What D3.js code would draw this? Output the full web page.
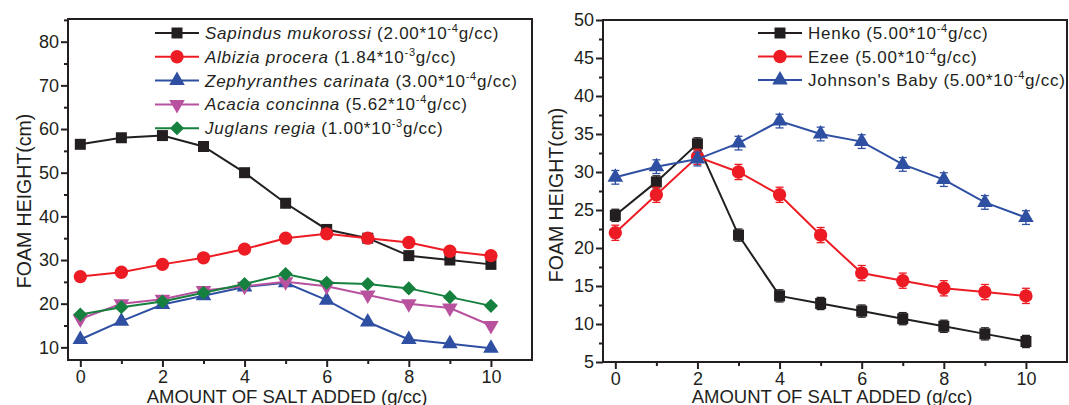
<!DOCTYPE html>
<html>
<head>
<meta charset="utf-8">
<script src="https://cdn.jsdelivr.net/npm/d3@7"></script>
<style>
  body { margin: 0; background: #fff; }
  svg { display: block; font-family: "Liberation Sans", Arial, sans-serif; }
</style>
</head>
<body>
<div id="chart"></div>
<script>
// salt added (g/cc)
var saltAdded = [0, 1, 2, 3, 4, 5, 6, 7, 8, 9, 10];

// left panel: natural surfactants, foam height (cm)
var sapindus     = [56.5, 58, 58.5, 56, 50, 43, 37, 35, 31, 30, 29];
var albizia      = [26.2, 27.2, 29, 30.5, 32.5, 35, 36, 35, 34, 32, 31];
var zephyranthes = [11.8, 16, 19.8, 21.8, 23.8, 24.8, 20.8, 15.8, 11.8, 10.8, 9.8];
var acacia       = [16.5, 20, 21, 23, 24, 25, 24, 22, 20, 19, 15];
var juglans      = [17.5, 19.2, 20.5, 22.5, 24.5, 26.8, 24.8, 24.5, 23.5, 21.5, 19.5];

// right panel: commercial shampoos, foam height (cm) and error
var henko        = [24.3, 28.7, 33.7, 21.7, 13.7, 12.7, 11.7, 10.7, 9.7, 8.7, 7.7];
var henkoErr     = [0.8, 0.8, 0.8, 0.8, 0.8, 0.8, 0.8, 0.8, 0.8, 0.8, 0.8];
var ezee         = [22, 27, 32, 30, 27, 21.7, 16.7, 15.7, 14.7, 14.2, 13.7];
var ezeeErr      = [1, 1, 1, 1, 1, 1, 1, 1, 1, 1, 1];
var johnson      = [29.3, 30.7, 31.7, 33.8, 36.7, 35, 34, 31, 29, 26, 24];
var johnsonErr   = [0.9, 0.9, 0.9, 0.9, 0.9, 0.9, 0.9, 0.9, 0.9, 0.9, 0.9];

var leftYTicks  = [10, 20, 30, 40, 50, 60, 70, 80];
var rightYTicks = [5, 10, 15, 20, 25, 30, 35, 40, 45, 50];

var ink = "#231f20";

var svg = d3.select("#chart")
  .append("svg")
    .attr("width", 1069)
    .attr("height", 405);

// marker shapes
var shapes = {
  square:   d3.symbol().type(d3.symbolSquare).size(121),
  circle:   d3.symbol().type(d3.symbolCircle).size(140),
  triangle: d3.symbol().type(d3.symbolTriangle).size(105),
  down:     d3.symbol().type(d3.symbolTriangle).size(105),
  diamond:  d3.symbol().type(d3.symbolSquare).size(100)
};
var rotate = { square: 0, circle: 0, triangle: 0, down: 180, diamond: 45 };

function drawPanel(p) {
  var x = d3.scaleLinear().domain([-0.3, 11]).range([p.left, p.right]);
  var y = d3.scaleLinear().domain(p.yDomain).range([p.bottom, p.top]);
  var g = svg.append("g");

  // x axis: ticks at every integer, labels on even values
  var xMinor = saltAdded.filter(function(d) { return d % 2 == 1; });
  var xMajor = saltAdded.filter(function(d) { return d % 2 == 0; });
  g.append("g")
    .attr("transform", "translate(0," + p.bottom + ")")
    .call(d3.axisBottom(x).tickValues(xMinor).tickSize(4).tickSizeOuter(0).tickFormat(""));
  g.append("g")
    .attr("class", "xmajor")
    .attr("transform", "translate(0," + p.bottom + ")")
    .call(d3.axisBottom(x).tickValues(xMajor).tickSize(7).tickPadding(4).tickSizeOuter(0));

  // y axis with minor ticks halfway
  var step = p.yTicks[1] - p.yTicks[0];
  var yMinor = p.yTicks.map(function(d) { return d - step / 2; })
    .filter(function(d) { return d > p.yDomain[0]; });
  if (p.yTicks[p.yTicks.length - 1] + step / 2 < p.yDomain[1]) yMinor.push(p.yTicks[p.yTicks.length - 1] + step / 2);
  g.append("g")
    .attr("transform", "translate(" + p.left + ",0)")
    .call(d3.axisLeft(y).tickValues(yMinor).tickSize(4).tickSizeOuter(0).tickFormat(""));
  g.append("g")
    .attr("transform", "translate(" + p.left + ",0)")
    .call(d3.axisLeft(y).tickValues(p.yTicks).tickSize(7).tickPadding(2).tickSizeOuter(0));

  g.selectAll(".domain").remove();
  g.selectAll(".tick line").attr("stroke", ink).attr("stroke-width", 2);
  g.selectAll(".tick text").attr("fill", ink).style("font-size", "18px");
  g.selectAll(".xmajor .tick text").attr("dy", "0.66em");

  // frame
  g.append("rect")
    .attr("x", p.left).attr("y", p.top)
    .attr("width", p.right - p.left).attr("height", p.bottom - p.top)
    .attr("fill", "none").attr("stroke", ink).attr("stroke-width", 2);

  // axis titles
  g.append("text")
    .attr("x", p.xTitleX).attr("y", 402.5)
    .attr("text-anchor", "middle")
    .style("font-size", "18.5px").attr("fill", ink)
    .text("AMOUNT OF SALT ADDED (g/cc)");
  g.append("text")
    .attr("transform", "translate(" + p.yTitleX + "," + p.yTitleY + ")rotate(-90)")
    .attr("text-anchor", "middle")
    .style("font-size", "19.5px").attr("fill", ink)
    .text("FOAM HEIGHT(cm)");

  var line = d3.line()
    .x(function(d, i) { return x(saltAdded[i]); })
    .y(function(d) { return y(d); });

  p.series.forEach(function(s) {
    // line
    g.append("path")
      .datum(s.values)
      .attr("d", line)
      .attr("fill", "none")
      .attr("stroke", s.color)
      .attr("stroke-width", 2);

    // error bars
    if (s.err) {
      var eb = g.append("g").selectAll("g")
        .data(s.values)
        .enter().append("g")
        .attr("stroke", s.color)
        .attr("stroke-width", 1.3);
      eb.append("line")
        .attr("x1", function(d, i) { return x(saltAdded[i]); })
        .attr("x2", function(d, i) { return x(saltAdded[i]); })
        .attr("y1", function(d, i) { return y(d - s.err[i]); })
        .attr("y2", function(d, i) { return y(d + s.err[i]); });
      [-1, 1].forEach(function(sign) {
        eb.append("line")
          .attr("x1", function(d, i) { return x(saltAdded[i]) - 4; })
          .attr("x2", function(d, i) { return x(saltAdded[i]) + 4; })
          .attr("y1", function(d, i) { return y(d + sign * s.err[i]); })
          .attr("y2", function(d, i) { return y(d + sign * s.err[i]); });
      });
    }

    // markers
    g.append("g").selectAll("path")
      .data(s.values)
      .enter().append("path")
        .attr("d", shapes[s.shape]())
        .attr("transform", function(d, i) {
          return "translate(" + x(saltAdded[i]) + "," + y(d) + ")rotate(" + rotate[s.shape] + ")";
        })
        .attr("fill", s.color);
  });

  // legend
  var lg = g.append("g");
  p.series.forEach(function(s, i) {
    var ly = p.legendY + i * p.legendGap;
    lg.append("line")
      .attr("x1", p.legendX).attr("x2", p.legendX + 44)
      .attr("y1", ly).attr("y2", ly)
      .attr("stroke", s.color).attr("stroke-width", 2);
    lg.append("path")
      .attr("d", shapes[s.shape]())
      .attr("transform", "translate(" + (p.legendX + 22) + "," + ly + ")rotate(" + rotate[s.shape] + ")")
      .attr("fill", s.color);
    var t = lg.append("text")
      .attr("x", p.legendX + 50).attr("y", ly + 6)
      .style("font-size", "17px").style("letter-spacing", "0.75px").attr("fill", ink);
    if (s.italic) {
      t.append("tspan").style("font-style", "italic").text(s.italic);
      t.append("tspan").text(" ");
    }
    t.append("tspan").text(s.name + "(" + s.conc + "*10");
    t.append("tspan").attr("dy", -7).style("font-size", "11px").text(s.exp);
    t.append("tspan").attr("dy", 7).text("g/cc)");
  });
}

drawPanel({
  left: 68, right: 532, top: 19, bottom: 360,
  yDomain: [7.1, 85.2], yTicks: leftYTicks,
  xTitleX: 287, yTitleX: 31, yTitleY: 201,
  legendX: 155, legendY: 33, legendGap: 23.8,
  series: [
    { italic: "Sapindus mukorossi", name: "", conc: "2.00", exp: "-4", values: sapindus, color: ink, shape: "square" },
    { italic: "Albizia procera", name: "", conc: "1.84", exp: "-3", values: albizia, color: "#ed1c24", shape: "circle" },
    { italic: "Zephyranthes carinata", name: "", conc: "3.00", exp: "-4", values: zephyranthes, color: "#2f50a2", shape: "triangle" },
    { italic: "Acacia concinna", name: "", conc: "5.62", exp: "-4", values: acacia, color: "#b8529f", shape: "down" },
    { italic: "Juglans regia", name: "", conc: "1.00", exp: "-3", values: juglans, color: "#16803e", shape: "diamond" }
  ]
});

drawPanel({
  left: 603, right: 1067, top: 20, bottom: 362,
  yDomain: [5, 50], yTicks: rightYTicks,
  xTitleX: 832, yTitleX: 563, yTitleY: 195,
  legendX: 758, legendY: 33, legendGap: 23.5,
  series: [
    { name: "Henko ", conc: "5.00", exp: "-4", values: henko, err: henkoErr, color: ink, shape: "square" },
    { name: "Ezee ", conc: "5.00", exp: "-4", values: ezee, err: ezeeErr, color: "#ed1c24", shape: "circle" },
    { name: "Johnson's Baby ", conc: "5.00", exp: "-4", values: johnson, err: johnsonErr, color: "#2f50a2", shape: "triangle" }
  ]
});
</script>
</body>
</html>
